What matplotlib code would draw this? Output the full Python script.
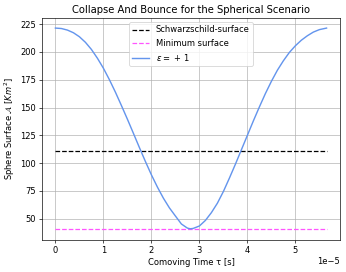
import numpy as np
import matplotlib
matplotlib.use('Agg')
import matplotlib.pyplot as plt

# comoving time (in units of 1e-5 s) and sphere surface
tau = [0.0, 0.125, 0.25, 0.375, 0.5, 0.625, 0.75, 0.875, 1.0, 1.125, 1.25,
       1.375, 1.5, 1.625, 1.75, 1.875, 2.0, 2.125, 2.25, 2.375, 2.5, 2.625,
       2.75, 2.81, 2.87, 3.0, 3.125, 3.25, 3.375, 3.5, 3.625, 3.75, 3.875,
       4.0, 4.125, 4.25, 4.375, 4.5, 4.625, 4.75, 4.875, 5.0, 5.125, 5.25,
       5.375, 5.5, 5.65]
surface = [221.4, 221.0, 219.6, 217.2, 213.6, 208.6, 202.2, 194.3, 185.3, 175.0,
           163.8, 151.8, 139.5, 126.8, 114.0, 101.5, 89.5, 78.5, 68.5, 59.8,
           52.5, 45.3, 41.6, 41.0, 41.3, 43.5, 48.5, 55.5, 64.0, 74.5, 86.5,
           99.0, 112.0, 125.0, 138.0, 150.5, 162.5, 173.5, 183.5, 192.0, 199.5,
           205.5, 210.5, 214.5, 217.8, 220.0, 221.4]
schwarzschild_surface = 111.0
minimum_surface = 41.0

t = np.array(tau) * 1e-5

fig = plt.figure(figsize=(346 / 60, 272 / 60), dpi=60)
ax = fig.add_axes([0.121, 0.118, 0.862, 0.816])

ax.plot([t[0], t[-1]], [schwarzschild_surface] * 2, '--', color='black',
        label='Schwarzschild-surface')
ax.plot([t[0], t[-1]], [minimum_surface] * 2, '--', color='#ff55ff',
        label='Minimum surface')
ax.plot(t, surface, color='cornflowerblue', lw=1.7, label=r'$\varepsilon =\,+\,1$')

ax.set_ylim(31, 230.5)
ax.set_title('Collapse And Bounce for the Spherical Scenario')
ax.set_xlabel('Comoving Time τ [s]')
ax.set_ylabel(r'Sphere Surface $\mathcal{A}$ [$Km^2$]')
ax.grid(True)
ax.legend(loc='upper center')

fig.savefig('out.png', dpi=60)
